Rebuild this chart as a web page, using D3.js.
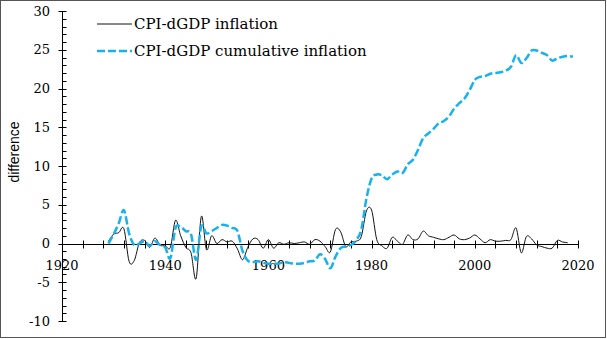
<!DOCTYPE html>
<html>
<head>
<meta charset="utf-8">
<script src="https://cdn.jsdelivr.net/npm/d3@7"></script>
<style>
  body { margin: 0; background: #fff; }
  svg { display: block; }
</style>
</head>
<body>
<svg id="chart"></svg>
<script>
var firstYear = 1929;

// annual CPI minus GDP deflator, 1929-2018
var inflation = [0.3, 1.2, 1.4, 1.9, -2.3, -2.2, 0.1, 0.4, -0.5, 0.7,
  -0.2, -0.3, -0.5, 3.0, 1.0, -0.5, -1.2, -4.5, 3.5, -0.8,
  1.0, 0.0, 0.5, 0.2, 0.3, -0.7, -2.1, -0.5, 0.6, 0.5,
  -0.6, 0.5, -0.6, 0.1, -0.1, 0.1, 0.0, 0.1, 0.2, -0.1,
  0.5, 0.3, -0.4, -1.1, 1.8, 1.5, -0.4, 0.2, 0.3, 0.9,
  4.2, 4.3, 0.5, -0.3, -0.6, 0.8, 0.3, -0.1, 1.1, 0.5,
  0.6, 1.6, 1.0, 0.8, 0.6, 0.5, 0.8, 1.1, 0.6, 0.5,
  0.7, 1.1, 0.6, 0.1, 0.5, 0.3, 0.3, 0.4, 0.5, 2.0,
  -1.2, 0.9, 0.6, -0.2, -0.4, -0.6, -0.6, 0.4, 0.2, 0.1];

// cumulative difference, 1929-2019
var cumulative = [0.0, 1.2, 2.6, 4.3, 1.3, -0.2, 0.0, 0.3, -0.3, 0.3,
  -0.2, -0.5, -1.9, 2.0, 2.1, 1.6, 1.2, -2.1, 2.2, 1.3,
  1.6, 2.0, 2.4, 2.3, 2.0, 1.6, -1.0, -2.2, -2.4, -2.3,
  -2.5, -2.6, -2.6, -2.6, -2.4, -2.5, -2.6, -2.6, -2.5, -2.3,
  -2.2, -1.4, -2.0, -3.2, -1.7, -0.6, -0.4, -0.2, 0.4, 1.8,
  5.8, 8.4, 8.9, 8.8, 8.3, 8.9, 9.3, 9.1, 10.2, 10.8,
  12.1, 13.6, 14.2, 14.8, 15.5, 15.8, 16.4, 17.4, 18.1, 18.7,
  19.8, 21.1, 21.5, 21.6, 21.9, 22.0, 22.1, 22.3, 22.8, 24.3,
  23.3, 23.9, 24.9, 24.9, 24.6, 24.3, 23.6, 23.9, 24.1, 24.2,
  24.1];

var xTicks = [1920, 1940, 1960, 1980, 2000, 2020];
var yTicks = [-10, -5, 0, 5, 10, 15, 20, 25, 30];
var seriesNames = ["CPI-dGDP inflation", "CPI-dGDP cumulative inflation"];

var W = 607, H = 339;
var serif = "'DejaVu Serif', serif";

var svg = d3.select("#chart")
  .attr("width", W)
  .attr("height", H);

svg.append("rect")
  .attr("x", 0.5).attr("y", 0.5)
  .attr("width", W - 2).attr("height", H - 2)
  .attr("fill", "#fff")
  .attr("stroke", "#555")
  .attr("stroke-width", 1);

var x = d3.scaleLinear().domain([1920, 2020]).range([62, 578]);
var y = d3.scaleLinear().domain([-10, 30]).range([321, 11]);

// y axis line + ticks
var yAxisX = 62.5;
svg.append("line")
  .attr("x1", yAxisX).attr("x2", yAxisX)
  .attr("y1", y(30)).attr("y2", y(-10))
  .attr("stroke", "#000");

svg.append("g").selectAll("line")
  .data(d3.range(-10, 31, 1))
  .enter().append("line")
    .attr("x1", function(d) { return d % 5 == 0 ? yAxisX - 4 : yAxisX; })
    .attr("x2", yAxisX + 4)
    .attr("y1", function(d) { return Math.round(y(d)) + 0.5; })
    .attr("y2", function(d) { return Math.round(y(d)) + 0.5; })
    .attr("stroke", "#000");

svg.append("g").selectAll("text")
  .data(yTicks)
  .enter().append("text")
    .attr("x", 50)
    .attr("y", function(d) { return y(d); })
    .attr("dy", "0.35em")
    .attr("text-anchor", "end")
    .style("font-family", serif)
    .style("font-size", "13px")
    .text(function(d) { return d < 0 ? "-" + Math.abs(d) : d; });

// x axis crosses at zero
var y0 = Math.round(y(0)) + 0.5;
svg.append("line")
  .attr("x1", x(1920)).attr("x2", x(2020))
  .attr("y1", y0).attr("y2", y0)
  .attr("stroke", "#000");

svg.append("g").selectAll("line")
  .data(d3.range(1920, 2021, 4))
  .enter().append("line")
    .attr("x1", function(d) { return Math.round(x(d)) + 0.5; })
    .attr("x2", function(d) { return Math.round(x(d)) + 0.5; })
    .attr("y1", y0 - 4)
    .attr("y2", y0 + 4)
    .attr("stroke", "#000");

svg.append("g").selectAll("text")
  .data(xTicks)
  .enter().append("text")
    .attr("x", function(d) { return x(d); })
    .attr("y", 270)
    .attr("text-anchor", "middle")
    .style("font-family", serif)
    .style("font-size", "13px")
    .text(function(d) { return d; });

svg.append("text")
  .attr("transform", "translate(19,152) rotate(-90)")
  .attr("text-anchor", "middle")
  .style("font-family", "'Liberation Sans', Arial, sans-serif")
  .style("font-size", "14px")
  .text("difference");

// series
var smooth = d3.line()
  .x(function(d, i) { return x(firstYear + i); })
  .y(function(d) { return y(d); })
  .curve(d3.curveCardinal.tension(0));

svg.append("path")
  .attr("d", smooth(inflation))
  .attr("fill", "none")
  .attr("stroke", "#111")
  .attr("stroke-width", 1);

svg.append("path")
  .attr("d", smooth(cumulative))
  .attr("fill", "none")
  .attr("stroke", "#17b2ee")
  .attr("stroke-width", 2.5)
  .attr("stroke-dasharray", "8,3");

// legend
var legend = svg.append("g");
var legendStyles = [
  {stroke: "#111", width: 1, dash: null},
  {stroke: "#17b2ee", width: 2.5, dash: "8,3"}
];
seriesNames.forEach(function(name, i) {
  var ly = 24 + i * 27;
  legend.append("line")
    .attr("x1", 97).attr("x2", 132)
    .attr("y1", ly).attr("y2", ly)
    .attr("stroke", legendStyles[i].stroke)
    .attr("stroke-width", legendStyles[i].width)
    .attr("stroke-dasharray", legendStyles[i].dash);
  legend.append("text")
    .attr("x", 134)
    .attr("y", ly)
    .attr("dy", "0.35em")
    .style("font-family", serif)
    .style("font-size", "15px")
    .text(name);
});
</script>
</body>
</html>
